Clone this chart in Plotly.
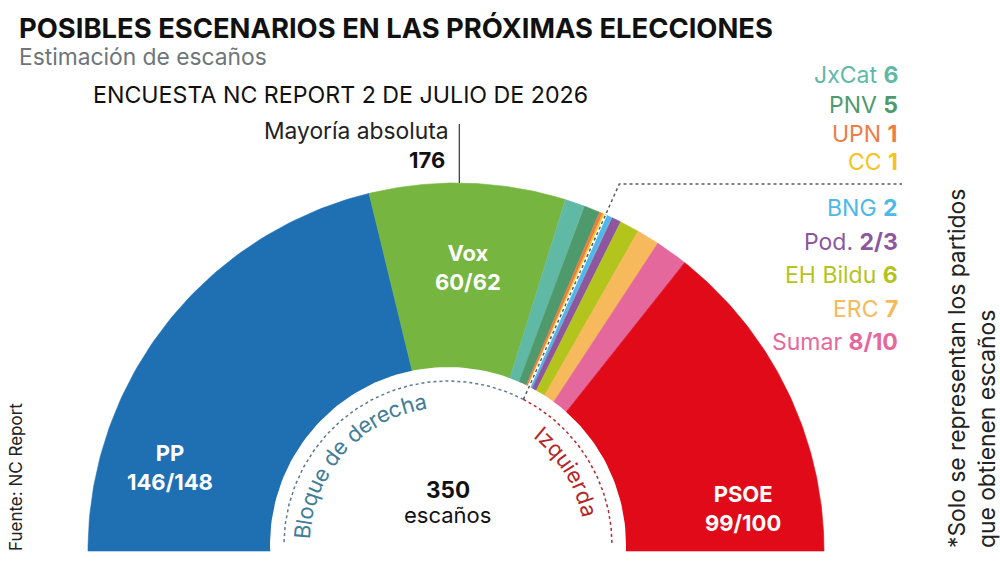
import numpy as np
import plotly.graph_objects as go

# ---------------- data ----------------
parties = ["PP", "Vox", "JxCat", "PNV", "UPN", "CC", "BNG", "Pod.", "EH Bildu", "ERC", "Sumar", "PSOE"]
seats_low = [146, 60, 6, 5, 1, 1, 2, 2, 6, 7, 8, 99]
seats_high = [148, 62, 6, 5, 1, 1, 2, 3, 6, 7, 10, 100]
seats_drawn = [148, 60, 6, 5, 1, 1, 2, 3, 6, 7, 10, 100]   # widths
colors = ["#1f6fb3", "#76b540", "#5fb9a5", "#4f9a6c", "#ee7d45", "#f6c31b",
          "#4cb9e9", "#8c579f", "#b3c41d", "#f6b95c", "#e4689b", "#e10a19"]
label_texts = ["JxCat", "PNV", "UPN", "CC", "BNG", "Pod.", "EH Bildu", "ERC", "Sumar"]
label_values = ["6", "5", "1", "1", "2", "2/3", "6", "7", "8/10"]
TOTAL_SEATS = 350
MAJORITY = 176

FONT = "Inter, sans-serif"
W, H = 1000, 567
S = 368.0          # px per unit (outer radius)
CX, CY = 456.0, 551.0   # pixel position of hemicycle centre


def px(x, y):
    """pixel -> data coords"""
    return (x - CX) / S, (CY - y) / S


fig = go.Figure()

# ---------------- wedges ----------------
tot = sum(seats_drawn)
cum = np.concatenate([[0], np.cumsum(seats_drawn)])
angles = 180.0 - cum / tot * 180.0
for i, p in enumerate(parties):
    a = np.linspace(angles[i], angles[i + 1], 80)
    xs = np.concatenate([[0], np.cos(np.radians(a)), [0]])
    ys = np.concatenate([[0], np.sin(np.radians(a)), [0]])
    fig.add_trace(go.Scatter(x=xs, y=ys, mode="lines", fill="toself",
                             fillcolor=colors[i], line=dict(color=colors[i], width=0.6),
                             hoverinfo="skip", showlegend=False))

# ---------------- inner hole ----------------
icx, icy = px(448, 545)
r_hole = 178 / S
t = np.linspace(0, 2 * np.pi, 200)
fig.add_trace(go.Scatter(x=icx + r_hole * np.cos(t), y=icy + r_hole * np.sin(t),
                         mode="lines", fill="toself", fillcolor="white",
                         line=dict(color="white", width=0), hoverinfo="skip", showlegend=False))

# ---------------- divider between blocks ----------------
theta_div = np.radians(angles[6])   # boundary between CC and BNG
r_dot = 164 / S
rr = np.linspace(0.2, 0.8, 20001)
dx = rr * np.cos(theta_div) - icx
dy = rr * np.sin(theta_div) - icy
k = np.argmin(np.abs(np.hypot(dx, dy) - r_dot))
r_j = rr[k]
jx, jy = r_j * np.cos(theta_div), r_j * np.sin(theta_div)
y_top = px(0, 184)[1]
r_top = y_top / np.sin(theta_div)
x_end = px(902, 0)[0]

fig.add_trace(go.Scatter(x=[jx, np.cos(theta_div) * 1.0], y=[jy, np.sin(theta_div) * 1.0],
                         mode="lines", line=dict(color="white", width=3),
                         hoverinfo="skip", showlegend=False))
fig.add_trace(go.Scatter(x=[jx, r_top * np.cos(theta_div), x_end],
                         y=[jy, y_top, y_top], mode="lines",
                         line=dict(color="#5a5a5a", width=1.5, dash="dot"),
                         hoverinfo="skip", showlegend=False))

ja = np.degrees(np.arctan2(jy - icy, jx - icx))
aL = np.radians(np.linspace(ja, 180, 120))
fig.add_trace(go.Scatter(x=icx + r_dot * np.cos(aL), y=icy + r_dot * np.sin(aL),
                         mode="lines", line=dict(color="#5b7a8c", width=1.5, dash="dot"),
                         hoverinfo="skip", showlegend=False))
aR = np.radians(np.linspace(ja, 0, 80))
fig.add_trace(go.Scatter(x=icx + r_dot * np.cos(aR), y=icy + r_dot * np.sin(aR),
                         mode="lines", line=dict(color="#b3262a", width=1.5, dash="dot"),
                         hoverinfo="skip", showlegend=False))

# majority line
am = np.radians(180 - MAJORITY / TOTAL_SEATS * 180)
fig.add_trace(go.Scatter(x=[np.cos(am), np.cos(am)], y=[1.0, px(0, 124)[1]], mode="lines",
                         line=dict(color="#333333", width=1.2), hoverinfo="skip", showlegend=False))

annotations = []


def ann(x, y, text, size, color="#111111", xanchor="center", yanchor="middle", angle=0, align="center"):
    annotations.append(dict(x=x / W, y=1 - y / H, xref="paper", yref="paper", text=text,
                            showarrow=False, xanchor=xanchor, yanchor=yanchor, textangle=angle,
                            align=align, font=dict(family=FONT, size=size, color=color)))


# titles
ann(17, 28, "<b>POSIBLES ESCENARIOS EN LAS PRÓXIMAS ELECCIONES</b>", 27.4, "#111111", xanchor="left")
ann(17, 56, "Estimación de escaños", 22.8, "#6e7579", xanchor="left")
ann(91, 95, "ENCUESTA NC REPORT 2 DE JULIO DE 2026", 23.2, "#111111", xanchor="left")
ann(451, 130, "Mayoría absoluta", 22.8, "#222222", xanchor="right")
ann(447, 160, "<b>%d</b>" % MAJORITY, 22, "#111111", xanchor="right")

# in-chart labels
ann(170, 467, "<b>PP</b><br><b>%d/%d</b>" % (seats_low[0], seats_high[0]), 22, "white")
ann(468, 267, "<b>Vox</b><br><b>%d/%d</b>" % (seats_low[1], seats_high[1]), 22, "white")
ann(743, 508, "<b>PSOE</b><br><b>%d/%d</b>" % (seats_low[11], seats_high[11]), 22, "white")
ann(448, 489, "<b>%d</b>" % TOTAL_SEATS, 22.5, "#111111")
ann(447, 515, "escaños", 22, "#111111")

# right-hand list
ys_list = [75, 105, 134, 162, 208, 242, 275, 309, 342]
for nm, val, yy, col in zip(label_texts, label_values, ys_list, colors[2:11]):
    ann(900, yy, "%s <b>%s</b>" % (nm, val), 23, col, xanchor="right")

# side notes
ann(16, 477, "Fuente: NC Report", 17, "#222222", angle=-90)
ann(971, 369, "*Solo se representan los partidos<br>que obtienen escaños", 22.8, "#222222",
    angle=-90, align="left")

# curved block labels
CW = {"B": 668, "l": 242, "o": 590, "q": 604, "u": 584, "e": 570, " ": 270, "d": 604,
      "r": 380, "c": 555, "h": 590, "a": 556, "I": 270, "z": 520, "i": 240}


def arc_text(text, r_px, a0, a1, color, size):
    w = [CW.get(c, 560) for c in text]
    pos = [0.0]
    for i in range(1, len(text)):
        pos.append(pos[-1] + (w[i - 1] + w[i]) / 2)
    for c, p in zip(text, pos):
        if c == " ":
            continue
        a = a0 + (a1 - a0) * p / pos[-1]
        x = icx + r_px / S * np.cos(np.radians(a))
        y = icy + r_px / S * np.sin(np.radians(a))
        annotations.append(dict(x=x, y=y, xref="x", yref="y", text=c, showarrow=False,
                                xanchor="center", yanchor="middle", textangle=90 - a,
                                font=dict(family=FONT, size=size, color=color)))


arc_text("Bloque de derecha", 146, 175.0, 101.0, "#3f7d98", 22)
arc_text("Izquierda", 145, 50.5, 14.0, "#b3262a", 22)

fig.update_layout(
    width=W, height=H, margin=dict(l=0, r=0, t=0, b=0),
    paper_bgcolor="white", plot_bgcolor="white", showlegend=False,
    xaxis=dict(range=[-CX / S, (W - CX) / S], visible=False, fixedrange=True),
    yaxis=dict(range=[(CY - H) / S, CY / S], visible=False, fixedrange=True),
    annotations=annotations,
)
fig.write_html("out.html")
